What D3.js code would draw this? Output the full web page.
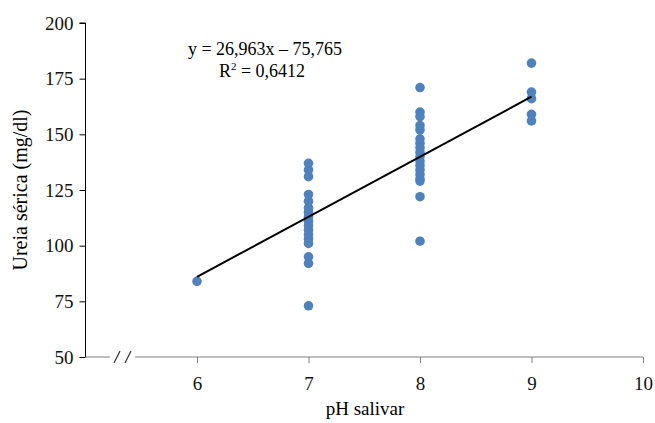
<!DOCTYPE html>
<html>
<head>
<meta charset="utf-8">
<script src="https://cdn.jsdelivr.net/npm/d3@7"></script>
<style>
  body { margin: 0; background: #fff; }
  text { font-family: "Liberation Serif", "DejaVu Serif", serif; }
</style>
</head>
<body>
<svg></svg>
<script>
// data
const ph6 = [84];
const ph7 = [137, 134, 131, 123, 120, 117, 115, 113, 111, 109, 107, 105, 103, 101, 95, 92, 73];
const ph8 = [171, 160, 158, 154, 152, 148, 146, 144, 142, 140, 138, 136, 134, 132, 130, 129, 122, 102];
const ph9 = [182, 169, 166, 159, 156];
const xTicks = [6, 7, 8, 9, 10];
const yTicks = [50, 75, 100, 125, 150, 175, 200];
const slope = 26.963, intercept = -75.765;

const SVGsize = {w: 655, h: 423};
const svg = d3.select('svg')
    .attr('width', SVGsize.w)
    .attr('height', SVGsize.h);

const scaleX = d3.scaleLinear().domain([5, 10]).range([85.5, 643]);
const scaleY = d3.scaleLinear().domain([50, 200]).range([357, 23]);

let points = [];
[[6, ph6], [7, ph7], [8, ph8], [9, ph9]].forEach(([x, vals]) => {
    vals.forEach(v => points.push({x: x, y: v}));
});

// y axis
const axisY = d3.axisLeft(scaleY).tickValues(yTicks).tickFormat(d3.format('d'))
    .tickSize(6).tickPadding(6);
const axisYG = svg.append('g')
    .attr('transform', `translate(${scaleX(5)}, 0)`)
    .call(axisY);
axisYG.select('.domain').attr('stroke', '#000').attr('d', `M-6,${scaleY(200)}H0V${scaleY(50)}`);
axisYG.selectAll('.tick line').attr('stroke', '#000');
axisYG.selectAll('.tick text').style('font-size', '19px').attr('fill', '#111');

// x axis with a break
const axisX = d3.axisBottom(scaleX).tickValues(xTicks).tickFormat(d3.format('d'))
    .tickSize(6).tickPadding(14);
const axisXG = svg.append('g')
    .attr('transform', `translate(0, ${scaleY(50)})`)
    .call(axisX);
axisXG.select('.domain').remove();
axisXG.selectAll('.tick line').attr('stroke', '#7f7f7f');
axisXG.selectAll('.tick text').style('font-size', '19px').attr('fill', '#111');

axisXG.append('line')
    .attr('x1', scaleX(5)).attr('x2', 110)
    .attr('stroke', '#7f7f7f');
axisXG.append('line')
    .attr('x1', 135).attr('x2', scaleX(10))
    .attr('stroke', '#7f7f7f');
[[114, 120], [125, 131]].forEach(([a, b]) => {
    axisXG.append('line')
        .attr('x1', a).attr('y1', 6)
        .attr('x2', b).attr('y2', -6)
        .attr('stroke', '#333')
        .attr('stroke-width', 1.3);
});

// points
svg.append('g')
    .selectAll('circle')
    .data(points)
    .join('circle')
    .attr('cx', d => scaleX(d.x))
    .attr('cy', d => scaleY(d.y))
    .attr('r', 4.8)
    .attr('fill', '#4f81bd');

// trend line
svg.append('line')
    .attr('x1', scaleX(6)).attr('y1', scaleY(slope * 6 + intercept))
    .attr('x2', scaleX(9)).attr('y2', scaleY(slope * 9 + intercept))
    .attr('stroke', '#000')
    .attr('stroke-width', 2);

// equation
svg.append('text')
    .attr('x', 265).attr('y', 55)
    .attr('text-anchor', 'middle')
    .style('font-size', '18px')
    .text('y = 26,963x – 75,765');
const r2 = svg.append('text')
    .attr('x', 262).attr('y', 77)
    .attr('text-anchor', 'middle')
    .style('font-size', '18px');
r2.append('tspan').text('R');
r2.append('tspan').attr('dy', -7).style('font-size', '11px').text('2');
r2.append('tspan').attr('dy', 7).text(' = 0,6412');

// axis titles
svg.append('text')
    .attr('x', 365).attr('y', 415)
    .attr('text-anchor', 'middle')
    .style('font-size', '19px')
    .text('pH salivar');
svg.append('text')
    .attr('transform', 'translate(27, 190) rotate(-90)')
    .attr('text-anchor', 'middle')
    .style('font-size', '20px')
    .text('Ureia sérica (mg/dl)');
</script>
</body>
</html>
